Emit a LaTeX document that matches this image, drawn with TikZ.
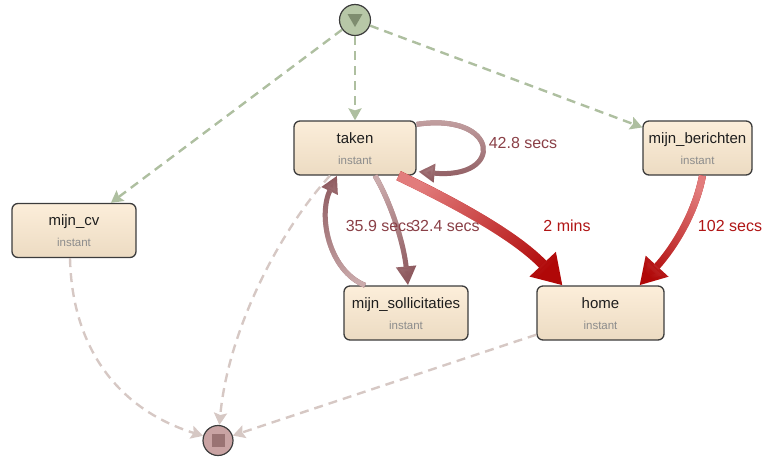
\documentclass[tikz,border=0pt]{standalone}
\usepackage{fontspec}
\setmainfont{Liberation Sans}
\usetikzlibrary{arrows.meta,calc,fadings}

\definecolor{boxtop}{HTML}{FCEEDA}
\definecolor{boxbot}{HTML}{ECDBC2}
\definecolor{boxline}{HTML}{3C3C3C}
\definecolor{titlec}{HTML}{1E1E1E}
\definecolor{instc}{HTML}{8C8C8C}
\definecolor{startfill}{HTML}{B7C7A7}
\definecolor{startmark}{HTML}{7E8C6F}
\definecolor{endfill}{HTML}{C9A3A3}
\definecolor{endmark}{HTML}{9A7373}
\definecolor{greendash}{HTML}{AEBFA0}
\definecolor{paledash}{HTML}{D6C8C4}
\definecolor{maroondark}{HTML}{8E5A5F}
\definecolor{maroonlight}{HTML}{CBABAC}
\definecolor{reddark}{HTML}{B00808}
\definecolor{redlight}{HTML}{E27C7C}
\definecolor{maroonlabel}{HTML}{8A4047}
\definecolor{redlabel}{HTML}{B01515}

% opaque on the left, clear on the right
\tikzfading[name=fadealong, left color=transparent!0, right color=transparent!100]

\tikzset{
  stepbox/.style={draw=boxline, line width=1.3pt, rounded corners=6pt,
    top color=boxtop, bottom color=boxbot, minimum height=54pt, inner sep=0pt},
  title/.style={font=\fontsize{15}{17}\selectfont, text=titlec, inner sep=0pt},
  sub/.style={font=\fontsize{11.5}{13}\selectfont, text=instc, inner sep=0pt},
  elabel/.style={font=\fontsize{16}{18}\selectfont, inner sep=0pt},
  startedge/.style={draw=greendash, line width=2.4pt, dash pattern=on 9pt off 6pt,
    -{Stealth[length=12pt,width=13pt,inset=2pt]}},
  endedge/.style={draw=paledash, line width=2.4pt, dash pattern=on 9pt off 6pt,
    -{Stealth[length=12pt,width=13pt,inset=2pt]}},
  % a connector whose colour runs from light (tail) to dark (head)
  graded/.style n args={3}{draw=#2,
    postaction={draw=#1, path fading=fadealong, fading angle=#3}},
}

\begin{document}
\begin{tikzpicture}[x=1pt,y=-1pt]
\useasboundingbox (0,0) rectangle (768,459);

% activity boxes
\node[stepbox, minimum width=122pt] (taken) at (355,148) {};
\node[stepbox, minimum width=124pt] (cv) at (74,230.5) {};
\node[stepbox, minimum width=109pt] (berichten) at (697.5,148) {};
\node[stepbox, minimum width=124pt] (soll) at (406,313) {};
\node[stepbox, minimum width=127pt] (home) at (600.5,313) {};

\foreach \n/\t in {taken/taken, cv/mijn\_cv, berichten/mijn\_berichten,
                   soll/mijn\_sollicitaties, home/home}{
  \node[title, anchor=base] (\n-title) at ($(\n)+(0,-5)$) {\t};
  \node[sub, anchor=base] (\n-sub) at ($(\n)+(0,16)$) {instant};
}

% start and end events
\node[circle, draw=boxline, line width=1.2pt, fill=startfill, minimum size=31pt, inner sep=0pt] (start) at (355,20) {};
\fill[startmark] ($(start)+(-7.5,-6)$) -- ($(start)+(7.5,-6)$) -- ($(start)+(0,7)$) -- cycle;
\node[circle, draw=boxline, line width=1.2pt, fill=endfill, minimum size=30pt, inner sep=0pt] (end) at (218,440.5) {};
\fill[endmark] ($(end)+(-6.5,-6.5)$) rectangle ($(end)+(6.5,6.5)$);

% connectors leaving the start event
\draw[startedge] (start) -- (taken);
\draw[startedge] (start) -- (cv);
\draw[startedge] (start) -- (berichten);

% connectors into the end event
\draw[endedge] ($(cv.south)+(-4,0)$) .. controls (72,350) and (120,410) .. (end);
\draw[endedge] ($(taken.south)+(-25,0)$) .. controls (280,230) and (228,330) .. (end);
\draw[endedge] ($(home.south west)+(0,-6)$) -- (end);

% transitions between activities
\draw[graded={maroonlight}{maroondark}{-90}, line width=5pt,
      -{Triangle[length=16pt,width=18pt]}]
  ($(taken.north east)+(0,4)$) .. controls (500,112) and (505,180) .. ($(taken.south east)+(2,-4)$);
\draw[graded={maroonlight}{maroondark}{-73}, line width=5pt,
      -{Triangle[length=19pt,width=19pt]}]
  ($(taken.south)+(20,0)$) .. controls (392,205) and (404,245) .. ($(soll.north)+(2,0)$);
\draw[graded={maroonlight}{maroondark}{104}, line width=5pt,
      -{Triangle[length=17pt,width=17pt]}]
  ($(soll.north)+(-41,0)$) .. controls (328,270) and (318,215) .. ($(taken.south)+(-18,0)$);
\draw[graded={redlight}{reddark}{-35}, line width=10pt,
      -{Triangle[length=29pt,width=34pt]}]
  ($(taken.south east)+(-18,0)$) .. controls (470,210) and (520,240) .. ($(home.north)+(-38,0)$);
\draw[graded={redlight}{reddark}{-120}, line width=7pt,
      -{Triangle[length=26pt,width=29pt]}]
  ($(berichten.south)+(5,0)$) .. controls (695,215) and (672,250) .. ($(home.north)+(39,0)$);

% transition labels
\node[elabel, text=maroonlabel] (l428) at (523,143) {42.8 secs};
\node[elabel, text=maroonlabel] (l359) at (380,226) {35.9 secs};
\node[elabel, text=maroonlabel] (l324) at (445.5,226) {32.4 secs};
\node[elabel, text=redlabel] (l2m) at (567,226) {2 mins};
\node[elabel, text=redlabel] (l102) at (730,226) {102 secs};
\end{tikzpicture}
\end{document}
